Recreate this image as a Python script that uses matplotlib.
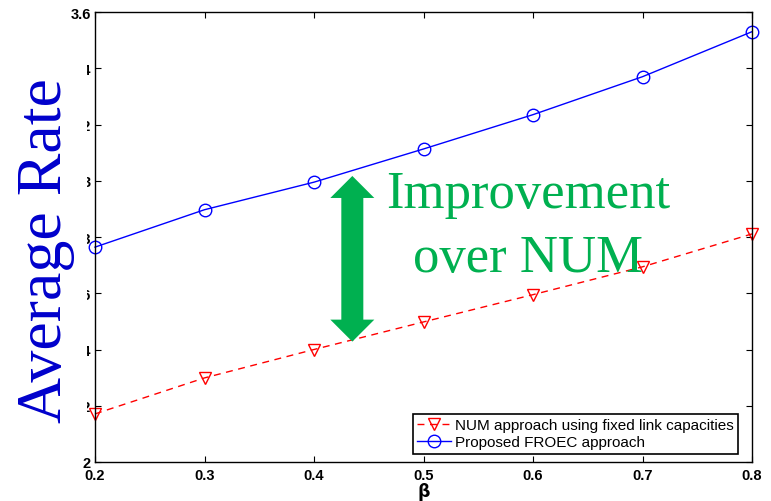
import matplotlib
matplotlib.use("Agg")
import matplotlib.pyplot as plt
from matplotlib.patches import Rectangle, Polygon
from matplotlib.transforms import IdentityTransform

beta = [0.2, 0.3, 0.4, 0.5, 0.6, 0.7, 0.8]
num_fixed = [2.171, 2.299, 2.400, 2.498, 2.595, 2.694, 2.811]
froec = [2.764, 2.897, 2.995, 3.113, 3.235, 3.370, 3.530]
yticks = [2.0, 2.2, 2.4, 2.6, 2.8, 3.0, 3.2, 3.4, 3.6]
ytick_labels = ["2", "2.2", "2.4", "2.6", "2.8", "3", "3.2", "3.4", "3.6"]
xticks = [0.2, 0.3, 0.4, 0.5, 0.6, 0.7, 0.8]
xtick_labels = ["0.2", "0.3", "0.4", "0.5", "0.6", "0.7", "0.8"]
label_num = "NUM approach using fixed link capacities"
label_froec = "Proposed FROEC approach"

W, H = 771, 502
fig = plt.figure(figsize=(W / 100, H / 100), dpi=100)
ax = fig.add_axes([95 / W, 1 - 463 / H, (752 - 95) / W, (463 - 13) / H])

ax.plot(beta, num_fixed, linestyle=(0, (5, 4)), color="#ff0000", lw=1.0,
        marker="v", markersize=9, markerfacecolor="none", markeredgecolor="#ff0000",
        markeredgewidth=1.0, label=label_num, clip_on=False)
ax.plot(beta, froec, linestyle="-", color="#0000ff", lw=1.0,
        marker="o", markersize=9, markerfacecolor="none", markeredgecolor="#0000ff",
        markeredgewidth=1.0, label=label_froec, clip_on=False)

ax.set_xlim(0.2, 0.8)
ax.set_ylim(2.0, 3.6)
ax.set_xticks(xticks)
ax.set_xticklabels(xtick_labels)
ax.set_yticks(yticks)
ax.set_yticklabels(ytick_labels)
ax.tick_params(direction="in", length=4, width=0.8, top=True, right=True,
               labelsize=10.5)
ax.tick_params(axis="x", pad=4)
ax.tick_params(axis="y", pad=3)
for lab in ax.get_xticklabels() + ax.get_yticklabels():
    lab.set_fontfamily("Liberation Sans")
    lab.set_fontweight("bold")
for s in ax.spines.values():
    s.set_linewidth(1.0)
ax.set_xlabel("β", fontsize=12.5, fontweight="bold", family="DejaVu Sans", labelpad=0)

leg = ax.legend(loc="lower right", bbox_to_anchor=(0.9787, 0.0178), borderaxespad=0,
                fancybox=False, framealpha=1, edgecolor="black", numpoints=1,
                handlelength=2.2, handletextpad=0.25, borderpad=0.3, labelspacing=0.2,
                prop={"family": "Liberation Sans", "size": 11})
leg.get_frame().set_linewidth(1.2)

# Green double-headed arrow (annotation), anchored at data points, sized in pixels
fig.canvas.draw()
x_arrow = 0.435
top_v, bot_v = 3.017, 2.428
(cx, ty) = ax.transData.transform((x_arrow, top_v))
(_, by) = ax.transData.transform((x_arrow, bot_v))
hw, sw, hl = 22, 11, 22
pts = [(cx, ty), (cx + hw, ty - hl), (cx + sw, ty - hl), (cx + sw, by + hl),
       (cx + hw, by + hl), (cx, by), (cx - hw, by + hl), (cx - sw, by + hl),
       (cx - sw, ty - hl), (cx - hw, ty - hl)]
arrow = Polygon(pts, closed=True, transform=IdentityTransform(),
                facecolor="#00b050", edgecolor="none", zorder=4)
fig.add_artist(arrow)

fig.text(528 / W, 1 - 208 / H, "Improvement", ha="center", va="baseline",
         fontsize=38, family="Liberation Serif", color="#00b050", zorder=6)
fig.text(528 / W, 1 - 272 / H, "over NUM", ha="center", va="baseline",
         fontsize=38, family="Liberation Serif", color="#00b050", zorder=6)

# White box hiding part of y tick labels, then the big y label
fig.add_artist(Rectangle((0, 1 - 447 / H), 87 / W, (447 - 52) / H,
                         transform=fig.transFigure, facecolor="white",
                         edgecolor="none", zorder=5))
fig.text(61 / W, 0.5, "Average Rate", rotation=90, rotation_mode="anchor",
         ha="center", va="baseline", fontsize=46, family="Liberation Serif",
         color="#0000cc", zorder=6)

fig.savefig("out.png", dpi=100)
